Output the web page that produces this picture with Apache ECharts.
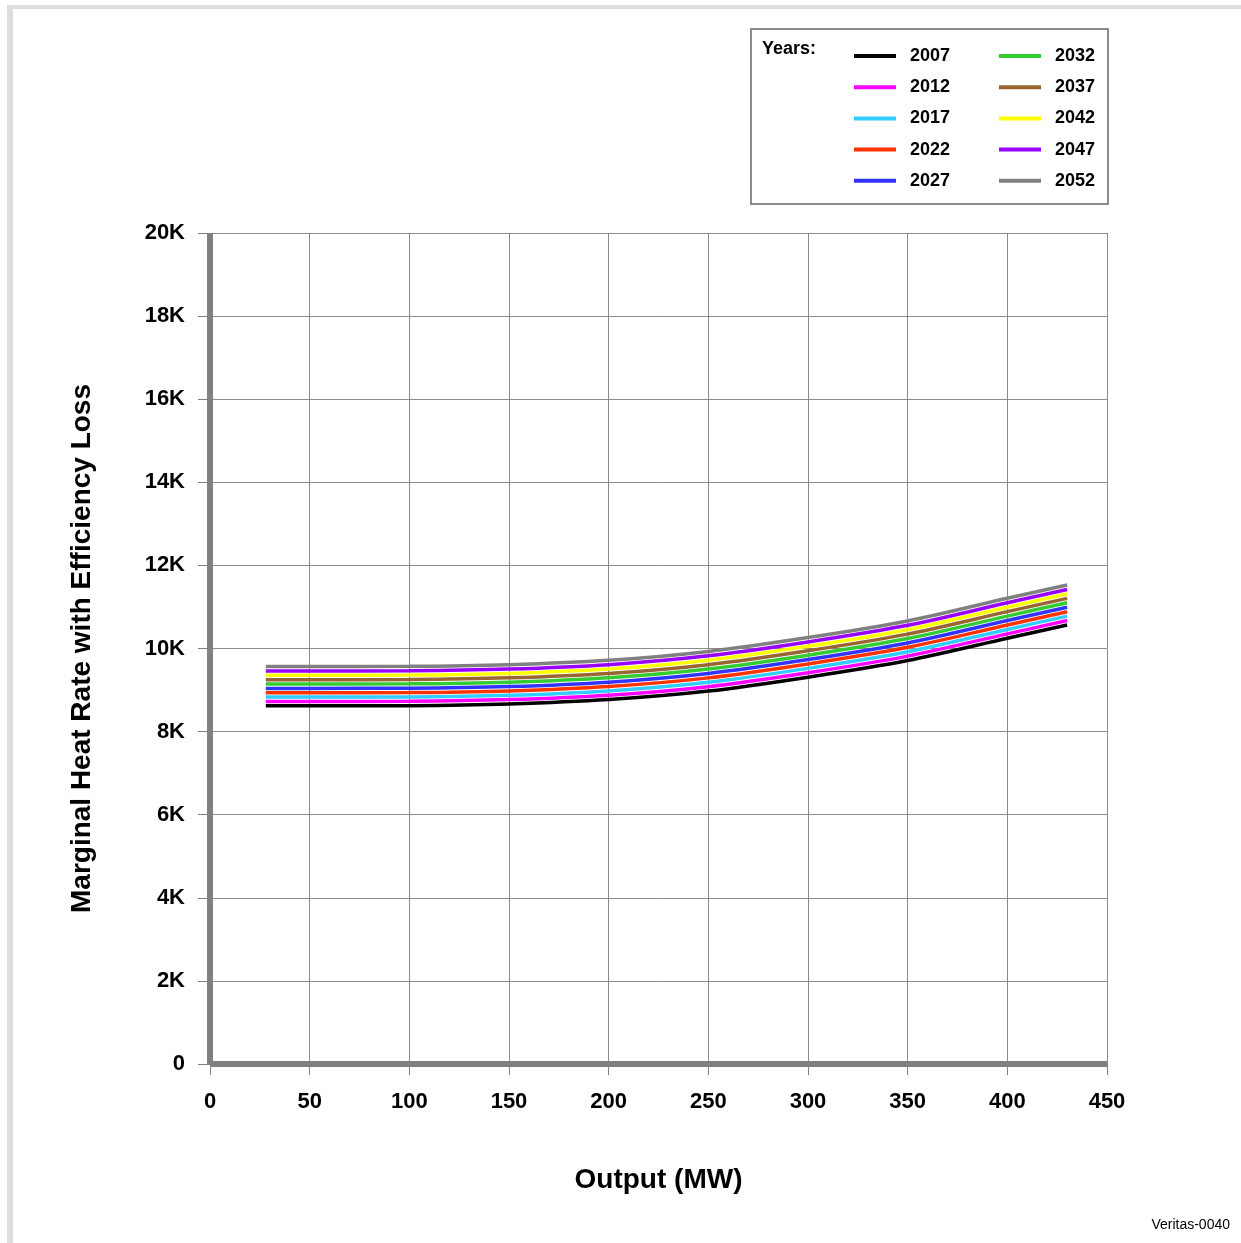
<!DOCTYPE html>
<html>
<head>
<meta charset="utf-8">
<script src="https://cdn.jsdelivr.net/npm/echarts@6/dist/echarts.min.js"></script>
<style>
html,body{margin:0;padding:0;background:#fff;}
#chart{width:1241px;height:1243px;}
</style>
</head>
<body>
<div id="chart"></div>
<script>
// Output (MW) sample points
var outputs = [28, 50, 100, 150, 200, 250, 300, 350, 400, 430];
var years = ['2007','2012','2017','2022','2027','2032','2037','2042','2047','2052'];
var colors = ['#000000','#ff00ff','#33ccff','#ff3300','#3333ff','#33cc33','#996633','#ffff00','#9900ff','#808080'];
var hr2007 = [8620, 8620, 8625, 8665, 8770, 8975, 9310, 9710, 10245, 10565];
var hr2012 = [8725, 8725, 8730, 8770, 8875, 9081, 9416, 9816, 10352, 10672];
var hr2017 = [8830, 8830, 8835, 8875, 8980, 9187, 9522, 9922, 10459, 10779];
var hr2022 = [8935, 8935, 8940, 8980, 9085, 9293, 9628, 10028, 10566, 10886];
var hr2027 = [9040, 9040, 9045, 9085, 9190, 9399, 9734, 10134, 10673, 10993];
var hr2032 = [9145, 9145, 9150, 9190, 9295, 9505, 9840, 10240, 10780, 11100];
var hr2037 = [9250, 9250, 9255, 9295, 9400, 9611, 9946, 10346, 10887, 11207];
var hr2042 = [9355, 9355, 9360, 9400, 9505, 9717, 10052, 10452, 10994, 11314];
var hr2047 = [9460, 9460, 9465, 9505, 9610, 9823, 10158, 10558, 11101, 11421];
var hr2052 = [9565, 9565, 9570, 9610, 9715, 9929, 10264, 10664, 11208, 11528];
var yTickLabels = {0:'0',2000:'2K',4000:'4K',6000:'6K',8000:'8K',10000:'10K',12000:'12K',14000:'14K',16000:'16K',18000:'18K',20000:'20K'};

var allSeries = [hr2007,hr2012,hr2017,hr2022,hr2027,hr2032,hr2037,hr2042,hr2047,hr2052];
var FONT = '"Liberation Sans", Arial, sans-serif';

var series = allSeries.map(function(vals, i){
  return {
    name: years[i],
    type: 'line',
    data: outputs.map(function(x, j){ return [x, vals[j]]; }),
    smooth: 0.3,
    showSymbol: false,
    lineStyle: {color: colors[i], width: 3.5},
    itemStyle: {color: colors[i]},
    z: 3
  };
});

function legendCfg(data, left){
  return {
    orient: 'vertical',
    left: left,
    top: 47,
    padding: 0,
    data: data,
    icon: 'rect',
    itemWidth: 42,
    itemHeight: 4,
    itemGap: 13.2,
    selectedMode: false,
    textStyle: {fontFamily: FONT, fontSize: 18, fontWeight: 'bold', color: '#000', padding: [0,0,0,9]}
  };
}

var chart = echarts.init(document.getElementById('chart'), null, {renderer: 'canvas'});
chart.setOption({
  animation: false,
  backgroundColor: '#ffffff',
  grid: {left: 210, right: 134, top: 233, bottom: 179, containLabel: false},
  legend: [legendCfg(years.slice(0,5), 854), legendCfg(years.slice(5), 999)],
  graphic: [
    {type: 'rect', shape: {x: 7, y: 5, width: 1241, height: 4}, style: {fill: '#dddddd'}, silent: true},
    {type: 'rect', shape: {x: 7, y: 5, width: 6, height: 1243}, style: {fill: '#dddddd'}, silent: true},
    {type: 'rect', shape: {x: 751, y: 29, width: 357, height: 175}, style: {fill: 'none', stroke: '#8c8c8c', lineWidth: 2}, silent: true, z: 0},
    {type: 'text', left: 762, top: 40, style: {text: 'Years:', font: 'bold 18px ' + FONT, fill: '#000'}},
    {type: 'text', right: 11, top: 1218, style: {text: 'Veritas-0040', font: '14px ' + FONT, fill: '#000'}}
  ],
  xAxis: {
    type: 'value', min: 0, max: 450, interval: 50,
    name: 'Output (MW)', nameLocation: 'middle', nameGap: 102,
    nameTextStyle: {fontFamily: FONT, fontSize: 28, fontWeight: 'bold', color: '#000'},
    axisLine: {show: true, onZero: false, lineStyle: {color: '#808080', width: 6, cap: 'butt'}},
    axisTick: {show: true, length: 11, lineStyle: {color: '#808080', width: 1}},
    axisLabel: {margin: 27, fontFamily: FONT, fontSize: 22, fontWeight: 'bold', color: '#000'},
    splitLine: {show: true, lineStyle: {color: '#8c8c8c', width: 1}}
  },
  yAxis: {
    type: 'value', min: 0, max: 20000, interval: 2000,
    name: 'Marginal Heat Rate with Efficiency Loss', nameLocation: 'middle', nameGap: 114,
    nameTextStyle: {fontFamily: FONT, fontSize: 28, fontWeight: 'bold', color: '#000'},
    axisLine: {show: true, onZero: false, lineStyle: {color: '#808080', width: 6, cap: 'butt'}},
    axisTick: {show: true, length: 12, lineStyle: {color: '#808080', width: 1}},
    axisLabel: {margin: 25, fontFamily: FONT, fontSize: 22, fontWeight: 'bold', color: '#000',
      formatter: function(v){ return yTickLabels[v] !== undefined ? yTickLabels[v] : ''; }},
    splitLine: {show: true, lineStyle: {color: '#8c8c8c', width: 1}}
  },
  series: series
});
</script>
</body>
</html>
